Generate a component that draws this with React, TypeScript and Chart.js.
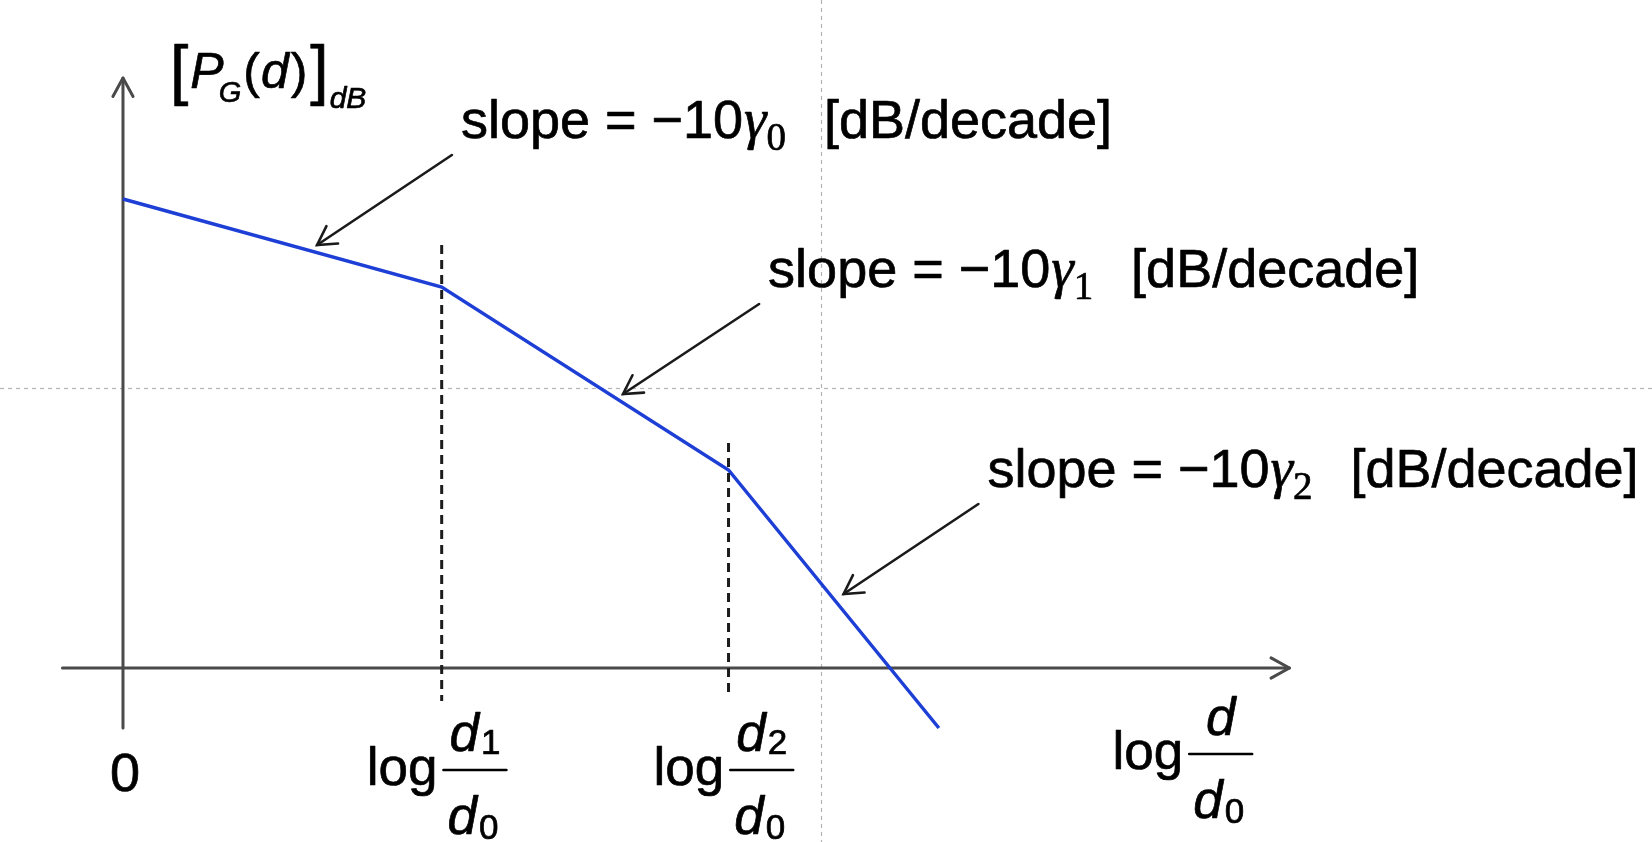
import React, { useEffect, useRef } from "react";
import { Chart, registerables } from "chart.js";

Chart.register(...registerables);

// Piecewise path-loss model: break points on log(d/d0) and the level in dB at each.
const BREAK_X = [0, 1.0, 1.9, 2.56];
const LEVEL_DB = [46.9, 38.1, 19.8, -6.0];

// Dashed markers at the two break distances.
const DIVIDER_X = [1.0, 1.9];
const DIVIDER_TOP = [42.3, 22.5];
const DIVIDER_BOTTOM = [-3.3, -3.0];

// Extent of the drawn axes.
const AXIS_X_RANGE = [-0.19, 3.66];
const AXIS_Y_RANGE = [-6.0, 59.0];

// Light centre guides.
const GUIDE_X = [2.19];
const GUIDE_Y = [28.0];

// Callout arrows (tail = label end, tip = on the curve).
const CALLOUT_TAIL_X = [1.032, 1.996, 2.684];
const CALLOUT_TAIL_Y = [51.3, 36.4, 16.4];
const CALLOUT_TIP_X = [0.609, 1.569, 2.261];
const CALLOUT_TIP_Y = [42.3, 27.4, 7.4];
const SLOPE_INDEX = ["0", "1", "2"];

// Tick labels on the distance axis.
const TICK_X = [1.0, 1.9];
const TICK_INDEX = ["1", "2"];

// Scale ranges (whole canvas is the plot area).
const X_MIN = -0.3859;
const X_MAX = 4.7976;
const Y_MIN = -17.4;
const Y_MAX = 66.8;

const SANS = "'Liberation Sans', Arial, sans-serif";
const SERIF = "'Liberation Serif', 'Times New Roman', serif";

type Run = { text: string; font: string; dx?: number; dy?: number };

// Text with a hairline stroke so glyphs read a little heavier.
function paintText(ctx: CanvasRenderingContext2D, text: string, x: number, y: number) {
  ctx.fillText(text, x, y);
  ctx.strokeText(text, x, y);
}

function drawRuns(ctx: CanvasRenderingContext2D, x: number, y: number, runs: Run[]) {
  let cx = x;
  for (const r of runs) {
    ctx.font = r.font;
    cx += r.dx || 0;
    paintText(ctx, r.text, cx, y + (r.dy || 0));
    cx += ctx.measureText(r.text).width;
  }
  return cx;
}

function chevron(
  ctx: CanvasRenderingContext2D,
  tipX: number,
  tipY: number,
  fromX: number,
  fromY: number,
  len: number,
  spread: number
) {
  const ang = Math.atan2(fromY - tipY, fromX - tipX);
  ctx.beginPath();
  ctx.moveTo(tipX + len * Math.cos(ang + spread), tipY + len * Math.sin(ang + spread));
  ctx.lineTo(tipX, tipY);
  ctx.lineTo(tipX + len * Math.cos(ang - spread), tipY + len * Math.sin(ang - spread));
  ctx.stroke();
}

function textStyle(ctx: CanvasRenderingContext2D) {
  ctx.fillStyle = "#000";
  ctx.strokeStyle = "#000";
  ctx.lineWidth = 0.7;
  ctx.lineJoin = "round";
  ctx.setLineDash([]);
  ctx.textAlign = "left";
  ctx.textBaseline = "alphabetic";
}

function fraction(
  ctx: CanvasRenderingContext2D,
  left: number,
  barY: number,
  numSub: string | null
) {
  textStyle(ctx);
  ctx.font = `53px ${SANS}`;
  paintText(ctx, "log", left, barY + 15);
  const logW = ctx.measureText("log").width;
  const barL = left + logW + 6;
  const barW = 63;
  ctx.lineWidth = 2.5;
  ctx.beginPath();
  ctx.moveTo(barL, barY);
  ctx.lineTo(barL + barW, barY);
  ctx.stroke();
  textStyle(ctx);
  if (numSub) {
    drawRuns(ctx, barL + 6, barY - 19, [
      { text: "d", font: `italic 53px ${SANS}` },
      { text: numSub, font: `35px ${SANS}`, dx: 2, dy: 3 },
    ]);
  } else {
    ctx.font = `italic 53px ${SANS}`;
    const w = ctx.measureText("d").width;
    paintText(ctx, "d", barL + (barW - w) / 2, barY - 19);
  }
  drawRuns(ctx, barL + 4, barY + 64, [
    { text: "d", font: `italic 53px ${SANS}` },
    { text: "0", font: `35px ${SANS}`, dx: 2, dy: 5 },
  ]);
}

const diagramPlugin = {
  id: "diagram",
  beforeDatasetsDraw(chart: any) {
    const { ctx, scales, width, height } = chart;
    const px = (v: number) => scales.x.getPixelForValue(v);
    const py = (v: number) => scales.y.getPixelForValue(v);
    ctx.save();

    // centre guides
    ctx.strokeStyle = "#b4b4b4";
    ctx.lineWidth = 1.2;
    ctx.setLineDash([4, 4]);
    for (const g of GUIDE_X) {
      ctx.beginPath();
      ctx.moveTo(Math.round(px(g)) + 0.5, 0);
      ctx.lineTo(Math.round(px(g)) + 0.5, height);
      ctx.stroke();
    }
    for (const g of GUIDE_Y) {
      ctx.beginPath();
      ctx.moveTo(0, Math.round(py(g)) + 0.5);
      ctx.lineTo(width, Math.round(py(g)) + 0.5);
      ctx.stroke();
    }
    ctx.setLineDash([]);

    // axes with open arrowheads
    ctx.strokeStyle = "#4a4a4a";
    ctx.lineWidth = 3;
    ctx.lineCap = "round";
    ctx.lineJoin = "round";
    const y0 = py(0);
    const x0 = px(0);
    ctx.beginPath();
    ctx.moveTo(px(AXIS_X_RANGE[0]), y0);
    ctx.lineTo(px(AXIS_X_RANGE[1]), y0);
    ctx.stroke();
    chevron(ctx, px(AXIS_X_RANGE[1]), y0, px(AXIS_X_RANGE[0]), y0, 21, 0.5);
    ctx.beginPath();
    ctx.moveTo(x0, py(AXIS_Y_RANGE[0]));
    ctx.lineTo(x0, py(AXIS_Y_RANGE[1]));
    ctx.stroke();
    chevron(ctx, x0, py(AXIS_Y_RANGE[1]), x0, py(AXIS_Y_RANGE[0]), 21, 0.5);
    ctx.restore();
  },
  afterDatasetsDraw(chart: any) {
    const { ctx, scales } = chart;
    const px = (v: number) => scales.x.getPixelForValue(v);
    const py = (v: number) => scales.y.getPixelForValue(v);
    ctx.save();

    // callout arrows
    ctx.strokeStyle = "#1a1a1a";
    ctx.lineWidth = 2.6;
    ctx.lineCap = "round";
    ctx.lineJoin = "miter";
    for (let i = 0; i < CALLOUT_TAIL_X.length; i++) {
      const tx = px(CALLOUT_TAIL_X[i]);
      const ty = py(CALLOUT_TAIL_Y[i]);
      const hx = px(CALLOUT_TIP_X[i]);
      const hy = py(CALLOUT_TIP_Y[i]);
      ctx.beginPath();
      ctx.moveTo(tx, ty);
      ctx.lineTo(hx, hy);
      ctx.stroke();
      chevron(ctx, hx, hy, tx, ty, 21, 0.52);
    }

    // slope labels
    textStyle(ctx);
    for (let i = 0; i < CALLOUT_TAIL_X.length; i++) {
      const sx = px(CALLOUT_TAIL_X[i]) + 9;
      const sy = py(CALLOUT_TAIL_Y[i]) - 17;
      drawRuns(ctx, sx, sy, [
        { text: "slope = \u221210", font: `54px ${SANS}` },
        { text: "\u03B3", font: `italic 57px ${SERIF}`, dx: 1 },
        { text: SLOPE_INDEX[i], font: `39px ${SERIF}`, dx: 0, dy: 12 },
      ]);
      ctx.font = `54px ${SANS}`;
      paintText(ctx, "[dB/decade]", sx + 363, sy);
    }

    // vertical axis title  [P_G(d)]_dB
    drawRuns(ctx, 170, 88, [
      { text: "[", font: `66px ${SANS}`, dy: 4 },
      { text: "P", font: `italic 50px ${SANS}`, dx: 2 },
      { text: "G", font: `italic 29px ${SANS}`, dx: -5, dy: 14 },
      { text: "(", font: `50px ${SANS}`, dx: 2 },
      { text: "d", font: `italic 50px ${SANS}`, dx: 1 },
      { text: ")", font: `50px ${SANS}`, dx: 2 },
      { text: "]", font: `66px ${SANS}`, dx: 3, dy: 4 },
      { text: "dB", font: `italic 30px ${SANS}`, dx: 1, dy: 20 },
    ]);

    // origin tick
    ctx.font = `54px ${SANS}`;
    ctx.textAlign = "center";
    paintText(ctx, "0", px(0) + 2, 791);
    ctx.textAlign = "left";

    // tick labels at the break distances
    for (let i = 0; i < TICK_X.length; i++) {
      fraction(ctx, px(TICK_X[i]) - 75, 770, TICK_INDEX[i]);
    }
    // horizontal axis title
    fraction(ctx, px(AXIS_X_RANGE[1]) - 177, 754, null);

    ctx.restore();
  },
};

export default function App() {
  const canvasRef = useRef<HTMLCanvasElement | null>(null);

  useEffect(() => {
    const canvas = canvasRef.current;
    if (!canvas) return;

    const curve = BREAK_X.map((x, i) => ({ x, y: LEVEL_DB[i] }));
    const dividers = DIVIDER_X.map((x, i) => ({
      type: "line" as const,
      data: [
        { x, y: DIVIDER_TOP[i] },
        { x, y: DIVIDER_BOTTOM[i] },
      ],
      borderColor: "#1c1c1c",
      borderWidth: 3,
      borderDash: [9, 6],
      pointRadius: 0,
      showLine: true,
    }));

    const chart = new Chart(canvas, {
      type: "scatter",
      data: {
        datasets: [
          ...dividers,
          {
            type: "line" as const,
            data: curve,
            borderColor: "#1d3fd6",
            borderWidth: 3.5,
            pointRadius: 0,
            showLine: true,
            tension: 0,
          },
        ],
      },
      options: {
        responsive: false,
        animation: false,
        layout: { padding: 0 },
        plugins: { legend: { display: false }, tooltip: { enabled: false } },
        scales: {
          x: { type: "linear", min: X_MIN, max: X_MAX, display: false },
          y: { type: "linear", min: Y_MIN, max: Y_MAX, display: false },
        },
      },
      plugins: [diagramPlugin],
    });

    return () => chart.destroy();
  }, []);

  return (
    <div style={{ position: "fixed", left: 0, top: 0, width: 1652, height: 842, background: "#fff" }}>
      <canvas ref={canvasRef} width={1652} height={842} style={{ width: 1652, height: 842 }} />
    </div>
  );
}
